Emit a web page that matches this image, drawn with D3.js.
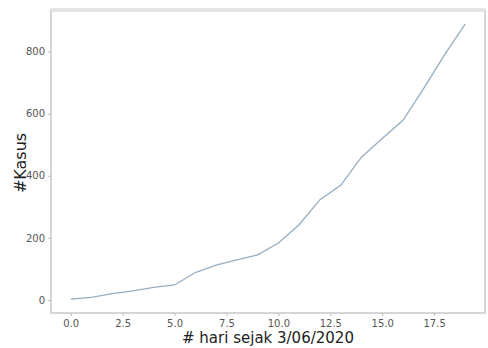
<!DOCTYPE html>
<html>
<head>
<meta charset="utf-8">
<script src="https://cdn.jsdelivr.net/npm/d3@7"></script>
<style>
  body { margin: 0; background: #fff; }
  text { font-family: "DejaVu Sans", sans-serif; }
</style>
</head>
<body>
<div id="viz"></div>
<script>
const days = [0, 1, 2, 3, 4, 5, 6, 7, 8, 9, 10, 11, 12, 13, 14, 15, 16, 17, 18, 19],
    cases = [2, 8, 20, 29, 40, 48, 88, 112, 129, 145, 183, 242, 323, 369, 460, 520, 579, 682, 790, 890],
    xTicks = [0, 2.5, 5, 7.5, 10, 12.5, 15, 17.5],
    yTicks = [0, 200, 400, 600, 800];

const svg = d3.select('#viz')
    .append('svg')
    .attr('width', 488)
    .attr('height', 348);

const margin = {top: 10, right: 3, bottom: 35, left: 51},
    width = 488 - margin.left - margin.right,
    height = 348 - margin.top - margin.bottom;

// matplotlib style 5% padding around the data
const xPad = (d3.max(days) - d3.min(days)) * 0.05,
    yPad = (d3.max(cases) - d3.min(cases)) * 0.05;

const xScale = d3.scaleLinear()
    .domain([d3.min(days) - xPad, d3.max(days) + xPad])
    .range([0, width]);

const yScale = d3.scaleLinear()
    .domain([d3.min(cases) - yPad, d3.max(cases) + yPad])
    .range([height, 0]);

const g = svg.append('g')
    .attr('transform', 'translate(' + margin.left + ',' + margin.top + ')');

const xAxis = g.append('g')
    .attr('transform', 'translate(0,' + height + ')')
    .call(d3.axisBottom(xScale).tickValues(xTicks).tickFormat(d3.format('.1f')).tickSize(3).tickPadding(4));

const yAxis = g.append('g')
    .call(d3.axisLeft(yScale).tickValues(yTicks).tickFormat(d3.format('d')).tickSize(3).tickPadding(3));

[xAxis, yAxis].forEach(function(a) {
    a.select('.domain').remove();
    a.selectAll('line').attr('stroke', '#bbb');
    a.selectAll('text').attr('fill', '#555').style('font-size', '10px');
});

// frame
g.append('rect')
    .attr('width', width)
    .attr('height', height)
    .attr('fill', 'none')
    .attr('stroke', '#c8c8c8')
    .attr('stroke-width', 1.5);
g.append('line')
    .attr('x1', 0).attr('x2', width)
    .attr('y1', 0).attr('y2', 0)
    .attr('stroke', '#e4e4e4')
    .attr('stroke-width', 4);

const line = d3.line()
    .x(function(d, i) { return xScale(days[i]); })
    .y(function(d) { return yScale(d); });

g.append('path')
    .datum(cases)
    .attr('d', line)
    .attr('fill', 'none')
    .attr('stroke', '#96aec2')
    .attr('stroke-width', 1.3);

svg.append('text')
    .attr('x', 268)
    .attr('y', 343)
    .attr('text-anchor', 'middle')
    .attr('fill', '#222')
    .style('font-size', '15px')
    .text('# hari sejak 3/06/2020');

svg.append('text')
    .attr('transform', 'translate(26,' + (margin.top + 153) + ') rotate(-90)')
    .attr('text-anchor', 'middle')
    .attr('fill', '#222')
    .style('font-size', '16px')
    .text('#Kasus');
</script>
</body>
</html>
